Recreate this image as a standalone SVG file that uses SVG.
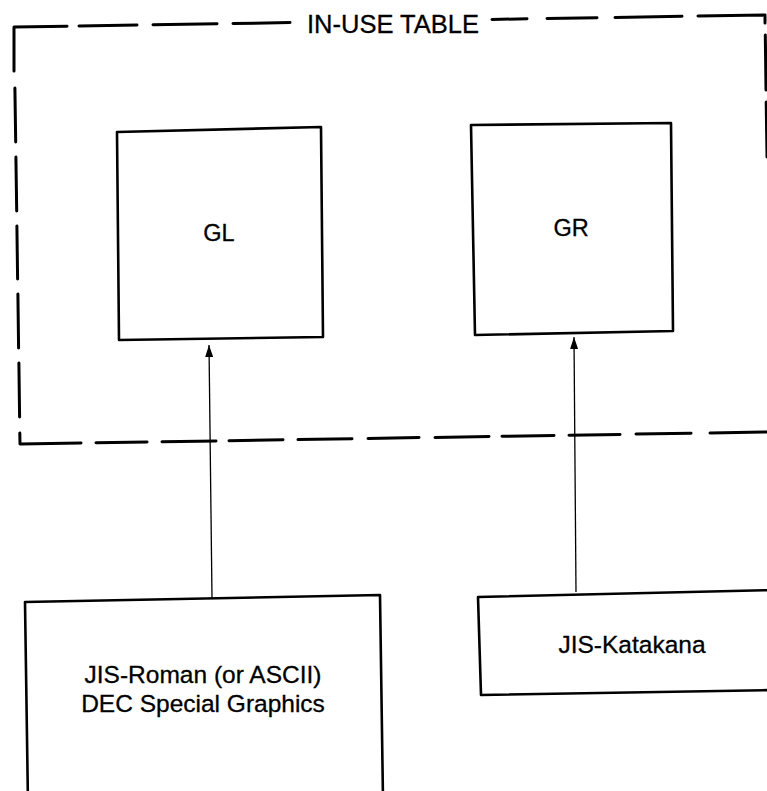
<svg xmlns="http://www.w3.org/2000/svg" width="767" height="791" viewBox="0 0 767 791">
<style>
.box{fill:none;stroke:#000;stroke-width:2.6;stroke-linejoin:round}
.frame{fill:none;stroke:#000;stroke-width:3;stroke-linecap:round;stroke-linejoin:round}
.conn{fill:none;stroke:#000;stroke-width:1.3}
.lbl{font-family:"Liberation Sans",Arial,sans-serif;fill:#000;stroke:#000;stroke-width:0.3;text-anchor:middle}
</style>
<defs>
<marker id="arr" viewBox="0 0 12 8" refX="12" refY="4" markerWidth="12" markerHeight="8" markerUnits="userSpaceOnUse" orient="auto">
<path d="M0,0 L12,4 L0,8 z" fill="#000"/>
</marker>
</defs>
<rect width="767" height="791" fill="#fff"/>
<g id="in-use-table">
<path class="frame" d="M14,71 L14,27 L67,26.2 M79,26 L137,25 M153,24.8 L217,23.8 M233,23.5 L290,22.6 M492,19.4 L527,18.8 M547,18.5 L597,17.7 M615,17.4 L682,16.3 M698,16.1 L765,15 L765,23 M765.3,35 L766,90 M766.2,102 L767,157 M14.9,88 L15.7,142 M15.9,157 L16.7,211 M16.9,226 L17.6,279 M17.9,294 L18.6,348 M18.9,363 L19.6,417 M19.8,433 L20,444 L81,443 M96,442.8 L147,442 M162,441.7 L216,440.9 M229,440.7 L283,439.8 M298,439.6 L352,438.7 M368,438.4 L419,437.6 M435,437.4 L489,436.5 M502,436.3 L554,435.5 M569,435.2 L620,434.4 M636,434.1 L691,433.3 M710,433 L769,432"/>
<text class="lbl" x="393" y="33" font-size="25.5">IN-USE TABLE</text>
</g>
<g id="GL">
<path class="box" d="M117,132 L321,127 L323,337 L119,340 Z"/>
<text class="lbl" x="219" y="241" font-size="23.5">GL</text>
</g>
<g id="GR">
<path class="box" d="M471,125 L671,123 L673,331 L475,335 Z"/>
<text class="lbl" x="571" y="236" font-size="23.5">GR</text>
</g>
<g id="jis-roman">
<path class="box" d="M25,602 L380,595 L383,800 L28,805 Z"/>
<text class="lbl" x="203" y="683" font-size="24.5">JIS-Roman (or ASCII)</text>
<text class="lbl" x="203" y="712" font-size="24.5">DEC Special Graphics</text>
</g>
<g id="jis-katakana">
<path class="box" d="M478,597 L775,590 L775,690 L481,695 Z"/>
<text class="lbl" x="632" y="653" font-size="24.5">JIS-Katakana</text>
</g>
<g id="connectors">
<line class="conn" x1="212" y1="598" x2="209" y2="345" marker-end="url(#arr)"/>
<line class="conn" x1="576" y1="592" x2="574" y2="337" marker-end="url(#arr)"/>
</g>
</svg>
